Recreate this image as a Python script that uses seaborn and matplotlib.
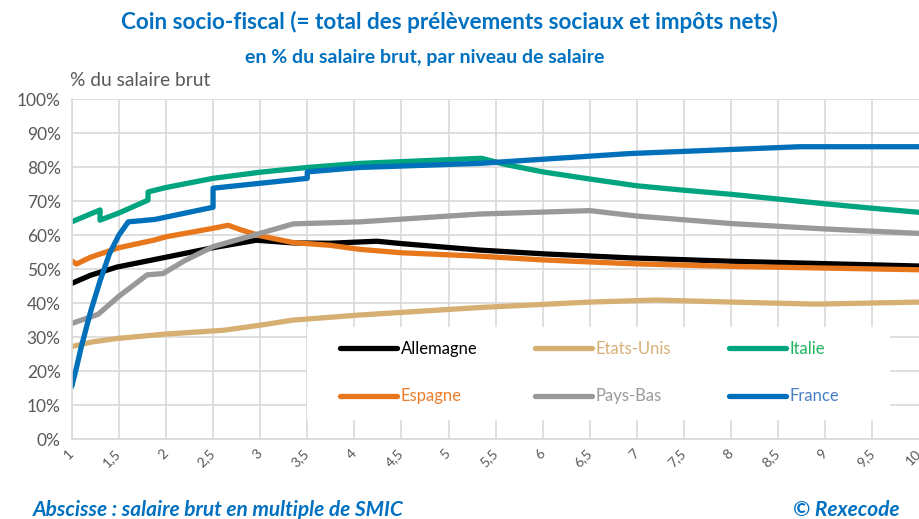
import numpy as np
import pandas as pd
import matplotlib
matplotlib.use("Agg")
import matplotlib.pyplot as plt
import seaborn as sns
from matplotlib.lines import Line2D
from matplotlib.patches import Rectangle
from matplotlib.ticker import MultipleLocator, FuncFormatter

sns.set_style("white")
plt.rcParams['font.family'] = ['Lato', 'DejaVu Sans']

# ------------------------------------------------------------
# data (x = multiple of SMIC, y = % of gross wage)
# ------------------------------------------------------------
countries = ['Allemagne', 'Etats-Unis', 'Italie', 'Espagne', 'Pays-Bas', 'France']
colors = ['#000000', '#D6B072', '#00A47E', '#E8761A', '#999999', '#0070BA']
label_colors = ['#000000', '#D8B077', '#1FB35E', '#EE7D2A', '#9A9A9A', '#4A80C2']

allemagne_x = [1, 1.2, 1.48, 2, 2.5, 2.96, 3.35, 3.74, 4.24, 4.5, 5.33, 6, 6.93, 8, 9, 10]
allemagne_y = [45.8, 48.2, 50.6, 53.5, 56.3, 58.5, 57.7, 57.6, 58.2, 57.5, 55.6, 54.5, 53.3, 52.3, 51.6, 50.9]

usa_x = [1, 1.2, 1.48, 2, 2.61, 3, 3.35, 4.06, 5.33, 6.5, 7.2, 8, 8.9, 10]
usa_y = [27.2, 28.5, 29.6, 30.9, 32.0, 33.5, 35.0, 36.5, 38.7, 40.3, 40.9, 40.3, 39.7, 40.3]

italie_x = [1, 1.3, 1.3, 1.5, 1.81, 1.81, 2, 2.5, 3, 3.5, 4.06, 5.35, 5.6, 6, 6.5, 7, 7.5, 8, 8.5, 9, 9.5, 10]
italie_y = [63.9, 67.4, 64.4, 66.5, 70.3, 72.7, 74.0, 76.7, 78.5, 79.9, 81.1, 82.6, 80.8, 78.6, 76.5, 74.5, 73.2, 72.0, 70.6, 69.2, 67.9, 66.7]

espagne_x = [1, 1.05, 1.2, 1.5, 1.87, 2, 2.5, 2.66, 2.8, 3, 3.35, 3.74, 4.06, 4.5, 5.33, 6, 6.93, 8, 9, 10]
espagne_y = [52.4, 51.5, 53.5, 56.3, 58.5, 59.5, 62.0, 62.9, 61.5, 59.8, 57.8, 57.0, 55.8, 54.8, 53.8, 52.7, 51.6, 50.8, 50.3, 49.8]

paysbas_x = [1, 1.28, 1.5, 1.8, 1.97, 2.2, 2.5, 2.96, 3.35, 4.06, 5.33, 6.5, 7, 8, 9, 10]
paysbas_y = [34.0, 36.7, 42.0, 48.3, 48.7, 52.5, 56.6, 60.2, 63.3, 63.9, 66.2, 67.2, 65.6, 63.4, 61.8, 60.5]

france_x = [1, 1.05, 1.1, 1.2, 1.3, 1.4, 1.5, 1.6, 1.88, 2.5, 2.5, 3.5, 3.5, 4.06, 5.33, 6.93, 8.73, 10]
france_y = [15.5, 21.0, 27.0, 37.5, 46.5, 54.5, 60.0, 63.9, 64.6, 68.2, 73.8, 76.7, 78.6, 79.9, 81.1, 84.0, 86.0, 86.0]

series_x = [allemagne_x, usa_x, italie_x, espagne_x, paysbas_x, france_x]
series_y = [allemagne_y, usa_y, italie_y, espagne_y, paysbas_y, france_y]

x_ticks = np.arange(1, 10.01, 0.5)

df = pd.concat([pd.DataFrame({'pays': c, 'x': xs, 'y': ys})
                for c, xs, ys in zip(countries, series_x, series_y)], ignore_index=True)

# ------------------------------------------------------------
# figure
# ------------------------------------------------------------
fig = plt.figure(figsize=(9.2, 5.19), dpi=100)
ax = fig.add_axes([0.078, 0.154, 0.9215, 0.655])

grid_c = '#D9D9D9'
txt_c = '#595959'
blue_t = '#0070C0'

for c, col in zip(countries, colors):
    sub = df[df['pays'] == c]
    sns.lineplot(data=sub, x='x', y='y', color=col, linewidth=3.8, sort=False,
                 estimator=None, ax=ax, solid_capstyle='round', solid_joinstyle='round')

ax.set_xlim(1, 10)
ax.set_ylim(0, 100)
ax.set_xticks(x_ticks)
ax.set_xticklabels([('%g' % t).replace('.', ',') for t in x_ticks],
                   rotation=45, ha='right', va='center', rotation_mode='anchor',
                   fontsize=10, color=txt_c)
ax.yaxis.set_major_locator(MultipleLocator(10))
ax.yaxis.set_major_formatter(FuncFormatter(lambda v, p: '%d%%' % v))
ax.tick_params(axis='y', labelsize=12.5, colors=txt_c, length=0, pad=8)
ax.tick_params(axis='x', length=0, pad=9)
ax.grid(True, color=grid_c, linewidth=1.2)
ax.set_axisbelow(True)
for s in ['top', 'right']:
    ax.spines[s].set_visible(False)
for s in ['left', 'bottom']:
    ax.spines[s].set_color(grid_c)
    ax.spines[s].set_linewidth(1.2)
ax.set_xlabel('')
ax.set_ylabel('')

# white legend area hiding the grid
ax.add_patch(Rectangle((0.278, 0.056), 0.687, 0.273, transform=ax.transAxes,
                       facecolor='white', edgecolor='none', zorder=1))

# legend: rows Allemagne/Etats-Unis/Italie, Espagne/Pays-Bas/France
leg_order = [0, 3, 1, 4, 2, 5]
handles = [Line2D([0], [0], color=colors[i], linewidth=3.8, solid_capstyle='round') for i in leg_order]
labels = [countries[i] for i in leg_order]
leg = ax.legend(handles, labels, ncol=3, loc='upper left',
                bbox_to_anchor=(0.3165, 0.289), frameon=False,
                fontsize=12, handlelength=3.4, handletextpad=0.25,
                labelspacing=1.9, borderpad=0, borderaxespad=0, columnspacing=3.45)
for t, i in zip(leg.get_texts(), leg_order):
    t.set_color(label_colors[i])

# titles and notes
fig.text(0.488, 0.957, 'Coin socio-fiscal (= total des prélèvements sociaux et impôts nets)',
         ha='center', va='center', fontsize=16.2, fontweight='bold', color=blue_t)
fig.text(0.462, 0.889, 'en % du salaire brut, par niveau de salaire',
         ha='center', va='center', fontsize=14, fontweight='bold', color=blue_t)
fig.text(0.076, 0.845, '% du salaire brut', ha='left', va='center', fontsize=13.8, color=txt_c)
fig.text(0.036, 0.018, 'Abscisse : salaire brut en multiple de SMIC', ha='left', va='center',
         fontsize=15, fontweight='bold', fontstyle='italic', color=blue_t)
fig.text(0.978, 0.018, '© Rexecode', ha='right', va='center',
         fontsize=15, fontweight='bold', fontstyle='italic', color=blue_t)

fig.savefig('out.png', dpi=100)
